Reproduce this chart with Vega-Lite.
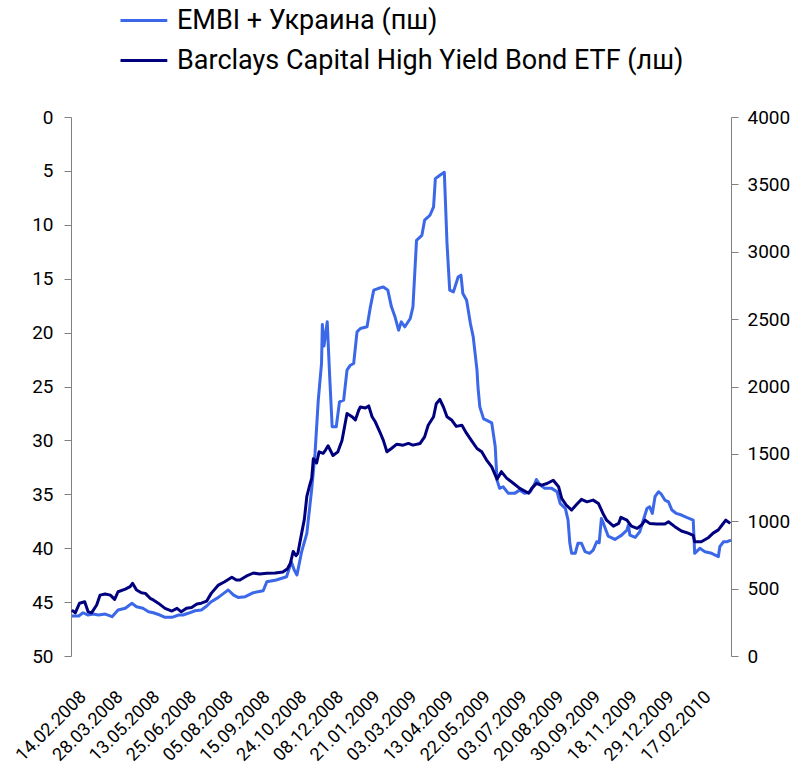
{
  "$schema": "https://vega.github.io/schema/vega-lite/v6.json",
  "width": 660,
  "height": 539,
  "autosize": {"type": "none"},
  "padding": {"left": 71, "top": 117, "right": 63, "bottom": 113},
  "background": "white",
  "config": {
    "view": {"stroke": null},
    "font": "Roboto",
    "axis": {"labelFont": "Roboto", "labelColor": "#000000", "grid": false, "title": null}
  },
  "datasets": {
    "embi": [
      {"date": "2008-02-01", "spread": 297}, {"date": "2008-02-09", "spread": 297}, {"date": "2008-02-14", "spread": 321},
      {"date": "2008-02-20", "spread": 304}, {"date": "2008-02-26", "spread": 311}, {"date": "2008-03-03", "spread": 304},
      {"date": "2008-03-11", "spread": 311}, {"date": "2008-03-19", "spread": 292}, {"date": "2008-03-26", "spread": 341},
      {"date": "2008-04-04", "spread": 354}, {"date": "2008-04-12", "spread": 391}, {"date": "2008-04-18", "spread": 366},
      {"date": "2008-04-26", "spread": 354}, {"date": "2008-05-03", "spread": 329}, {"date": "2008-05-09", "spread": 321},
      {"date": "2008-05-17", "spread": 304}, {"date": "2008-05-23", "spread": 287}, {"date": "2008-05-31", "spread": 287},
      {"date": "2008-06-08", "spread": 304}, {"date": "2008-06-13", "spread": 304}, {"date": "2008-06-19", "spread": 317},
      {"date": "2008-06-27", "spread": 336}, {"date": "2008-07-04", "spread": 341}, {"date": "2008-07-10", "spread": 371},
      {"date": "2008-07-15", "spread": 403}, {"date": "2008-07-23", "spread": 435}, {"date": "2008-07-30", "spread": 470},
      {"date": "2008-08-03", "spread": 490}, {"date": "2008-08-09", "spread": 452}, {"date": "2008-08-14", "spread": 435},
      {"date": "2008-08-22", "spread": 440}, {"date": "2008-08-31", "spread": 470}, {"date": "2008-09-11", "spread": 484},
      {"date": "2008-09-15", "spread": 551}, {"date": "2008-09-25", "spread": 564}, {"date": "2008-10-06", "spread": 588},
      {"date": "2008-10-11", "spread": 699}, {"date": "2008-10-14", "spread": 640}, {"date": "2008-10-17", "spread": 601},
      {"date": "2008-10-22", "spread": 775}, {"date": "2008-10-28", "spread": 910}, {"date": "2008-11-03", "spread": 1240},
      {"date": "2008-11-07", "spread": 1500}, {"date": "2008-11-11", "spread": 1899}, {"date": "2008-11-15", "spread": 2171},
      {"date": "2008-11-16", "spread": 2460}, {"date": "2008-11-18", "spread": 2300}, {"date": "2008-11-22", "spread": 2480},
      {"date": "2008-11-25", "spread": 2072}, {"date": "2008-11-28", "spread": 1701}, {"date": "2008-12-03", "spread": 1701},
      {"date": "2008-12-07", "spread": 1886}, {"date": "2008-12-12", "spread": 1899}, {"date": "2008-12-16", "spread": 2121},
      {"date": "2008-12-20", "spread": 2158}, {"date": "2008-12-24", "spread": 2171}, {"date": "2008-12-28", "spread": 2405},
      {"date": "2009-01-01", "spread": 2430}, {"date": "2009-01-09", "spread": 2443}, {"date": "2009-01-13", "spread": 2591},
      {"date": "2009-01-17", "spread": 2715}, {"date": "2009-01-22", "spread": 2727}, {"date": "2009-01-28", "spread": 2739},
      {"date": "2009-02-02", "spread": 2715}, {"date": "2009-02-06", "spread": 2591}, {"date": "2009-02-10", "spread": 2517},
      {"date": "2009-02-14", "spread": 2418}, {"date": "2009-02-17", "spread": 2480}, {"date": "2009-02-21", "spread": 2443},
      {"date": "2009-02-27", "spread": 2505}, {"date": "2009-03-02", "spread": 2591}, {"date": "2009-03-06", "spread": 3085},
      {"date": "2009-03-12", "spread": 3122}, {"date": "2009-03-15", "spread": 3234}, {"date": "2009-03-21", "spread": 3271},
      {"date": "2009-03-25", "spread": 3333}, {"date": "2009-03-27", "spread": 3543}, {"date": "2009-04-01", "spread": 3568},
      {"date": "2009-04-06", "spread": 3590}, {"date": "2009-04-09", "spread": 3061}, {"date": "2009-04-12", "spread": 2715},
      {"date": "2009-04-16", "spread": 2702}, {"date": "2009-04-21", "spread": 2813}, {"date": "2009-04-24", "spread": 2826},
      {"date": "2009-04-26", "spread": 2690}, {"date": "2009-04-30", "spread": 2640}, {"date": "2009-05-04", "spread": 2468},
      {"date": "2009-05-07", "spread": 2368}, {"date": "2009-05-11", "spread": 2121}, {"date": "2009-05-12", "spread": 2000},
      {"date": "2009-05-14", "spread": 1849}, {"date": "2009-05-18", "spread": 1760}, {"date": "2009-05-21", "spread": 1750},
      {"date": "2009-05-27", "spread": 1730}, {"date": "2009-05-31", "spread": 1553}, {"date": "2009-06-02", "spread": 1305},
      {"date": "2009-06-05", "spread": 1244}, {"date": "2009-06-09", "spread": 1256}, {"date": "2009-06-15", "spread": 1207},
      {"date": "2009-06-22", "spread": 1207}, {"date": "2009-06-28", "spread": 1231}, {"date": "2009-07-04", "spread": 1207},
      {"date": "2009-07-11", "spread": 1219}, {"date": "2009-07-17", "spread": 1281}, {"date": "2009-07-19", "spread": 1310},
      {"date": "2009-07-24", "spread": 1268}, {"date": "2009-07-30", "spread": 1244}, {"date": "2009-08-08", "spread": 1244},
      {"date": "2009-08-15", "spread": 1219}, {"date": "2009-08-19", "spread": 1133}, {"date": "2009-08-25", "spread": 1095},
      {"date": "2009-08-28", "spread": 1009}, {"date": "2009-08-30", "spread": 836}, {"date": "2009-09-01", "spread": 762},
      {"date": "2009-09-05", "spread": 762}, {"date": "2009-09-08", "spread": 836}, {"date": "2009-09-12", "spread": 836},
      {"date": "2009-09-16", "spread": 774}, {"date": "2009-09-21", "spread": 762}, {"date": "2009-09-25", "spread": 786},
      {"date": "2009-09-29", "spread": 848}, {"date": "2009-10-02", "spread": 840}, {"date": "2009-10-05", "spread": 1020},
      {"date": "2009-10-08", "spread": 980}, {"date": "2009-10-14", "spread": 890}, {"date": "2009-10-23", "spread": 865},
      {"date": "2009-11-01", "spread": 897}, {"date": "2009-11-08", "spread": 934}, {"date": "2009-11-10", "spread": 972},
      {"date": "2009-11-12", "spread": 897}, {"date": "2009-11-19", "spread": 880}, {"date": "2009-11-24", "spread": 922},
      {"date": "2009-11-28", "spread": 1009}, {"date": "2009-12-02", "spread": 1095}, {"date": "2009-12-05", "spread": 1107},
      {"date": "2009-12-08", "spread": 1058}, {"date": "2009-12-11", "spread": 1182}, {"date": "2009-12-15", "spread": 1219},
      {"date": "2009-12-18", "spread": 1201}, {"date": "2009-12-22", "spread": 1157}, {"date": "2009-12-26", "spread": 1144},
      {"date": "2009-12-30", "spread": 1083}, {"date": "2010-01-05", "spread": 1058}, {"date": "2010-01-12", "spread": 1046},
      {"date": "2010-01-19", "spread": 1029}, {"date": "2010-01-28", "spread": 1009}, {"date": "2010-01-29", "spread": 885},
      {"date": "2010-01-30", "spread": 762}, {"date": "2010-02-06", "spread": 799}, {"date": "2010-02-13", "spread": 774},
      {"date": "2010-02-22", "spread": 762}, {"date": "2010-03-03", "spread": 737}, {"date": "2010-03-05", "spread": 811},
      {"date": "2010-03-10", "spread": 848}, {"date": "2010-03-15", "spread": 848}, {"date": "2010-03-20", "spread": 860}
    ],
    "hy": [
      {"date": "2008-02-01", "price": 45.74}, {"date": "2008-02-05", "price": 46.0}, {"date": "2008-02-10", "price": 45.1},
      {"date": "2008-02-16", "price": 44.97}, {"date": "2008-02-20", "price": 45.9}, {"date": "2008-02-24", "price": 46.0},
      {"date": "2008-03-01", "price": 45.27}, {"date": "2008-03-05", "price": 44.35}, {"date": "2008-03-11", "price": 44.25},
      {"date": "2008-03-17", "price": 44.35}, {"date": "2008-03-22", "price": 44.75}, {"date": "2008-03-26", "price": 44.04},
      {"date": "2008-04-04", "price": 43.8}, {"date": "2008-04-10", "price": 43.57}, {"date": "2008-04-13", "price": 43.26},
      {"date": "2008-04-18", "price": 43.88}, {"date": "2008-04-24", "price": 44.13}, {"date": "2008-04-29", "price": 44.19},
      {"date": "2008-05-05", "price": 44.65}, {"date": "2008-05-09", "price": 44.8}, {"date": "2008-05-15", "price": 45.1},
      {"date": "2008-05-23", "price": 45.58}, {"date": "2008-05-31", "price": 45.83}, {"date": "2008-06-06", "price": 45.58},
      {"date": "2008-06-11", "price": 45.9}, {"date": "2008-06-17", "price": 45.58}, {"date": "2008-06-23", "price": 45.5},
      {"date": "2008-06-29", "price": 45.18}, {"date": "2008-07-04", "price": 45.1}, {"date": "2008-07-10", "price": 44.9},
      {"date": "2008-07-15", "price": 44.19}, {"date": "2008-07-23", "price": 43.42}, {"date": "2008-07-30", "price": 43.11},
      {"date": "2008-08-07", "price": 42.7}, {"date": "2008-08-12", "price": 42.95}, {"date": "2008-08-16", "price": 42.95},
      {"date": "2008-08-23", "price": 42.6}, {"date": "2008-08-31", "price": 42.3}, {"date": "2008-09-07", "price": 42.4},
      {"date": "2008-09-15", "price": 42.33}, {"date": "2008-09-24", "price": 42.3}, {"date": "2008-10-02", "price": 42.2},
      {"date": "2008-10-07", "price": 41.9}, {"date": "2008-10-10", "price": 41.4}, {"date": "2008-10-13", "price": 40.3},
      {"date": "2008-10-16", "price": 40.7}, {"date": "2008-10-18", "price": 40.45}, {"date": "2008-10-22", "price": 38.6},
      {"date": "2008-10-25", "price": 37.3}, {"date": "2008-10-28", "price": 35.2}, {"date": "2008-10-31", "price": 34.3},
      {"date": "2008-11-03", "price": 33.5}, {"date": "2008-11-05", "price": 31.7}, {"date": "2008-11-09", "price": 32.1},
      {"date": "2008-11-12", "price": 31.06}, {"date": "2008-11-17", "price": 31.2}, {"date": "2008-11-19", "price": 31.0},
      {"date": "2008-11-23", "price": 30.5}, {"date": "2008-11-29", "price": 31.4}, {"date": "2008-12-05", "price": 31.06},
      {"date": "2008-12-10", "price": 30.0}, {"date": "2008-12-16", "price": 27.5}, {"date": "2008-12-22", "price": 27.8},
      {"date": "2008-12-26", "price": 28.1}, {"date": "2008-12-30", "price": 27.2}, {"date": "2009-01-01", "price": 26.9},
      {"date": "2009-01-07", "price": 27.0}, {"date": "2009-01-11", "price": 26.8}, {"date": "2009-01-15", "price": 27.8},
      {"date": "2009-01-19", "price": 28.3}, {"date": "2009-01-24", "price": 29.2}, {"date": "2009-01-28", "price": 30.0},
      {"date": "2009-02-01", "price": 31.06}, {"date": "2009-02-06", "price": 30.75}, {"date": "2009-02-12", "price": 30.35},
      {"date": "2009-02-19", "price": 30.44}, {"date": "2009-02-25", "price": 30.28}, {"date": "2009-03-02", "price": 30.44},
      {"date": "2009-03-10", "price": 30.28}, {"date": "2009-03-15", "price": 29.67}, {"date": "2009-03-19", "price": 28.6},
      {"date": "2009-03-25", "price": 27.8}, {"date": "2009-03-28", "price": 26.6}, {"date": "2009-04-01", "price": 26.2},
      {"date": "2009-04-05", "price": 26.9}, {"date": "2009-04-09", "price": 27.8}, {"date": "2009-04-14", "price": 28.1},
      {"date": "2009-04-19", "price": 28.7}, {"date": "2009-04-25", "price": 28.6}, {"date": "2009-04-30", "price": 29.35},
      {"date": "2009-05-05", "price": 30.0}, {"date": "2009-05-11", "price": 30.75}, {"date": "2009-05-16", "price": 31.06},
      {"date": "2009-05-21", "price": 31.8}, {"date": "2009-05-27", "price": 32.45}, {"date": "2009-06-02", "price": 33.6},
      {"date": "2009-06-07", "price": 32.9}, {"date": "2009-06-13", "price": 33.5}, {"date": "2009-06-21", "price": 34.0},
      {"date": "2009-06-28", "price": 34.45}, {"date": "2009-07-09", "price": 34.9}, {"date": "2009-07-13", "price": 34.45},
      {"date": "2009-07-19", "price": 34.0}, {"date": "2009-07-26", "price": 34.15}, {"date": "2009-08-02", "price": 34.0},
      {"date": "2009-08-10", "price": 33.7}, {"date": "2009-08-17", "price": 34.3}, {"date": "2009-08-21", "price": 35.4},
      {"date": "2009-08-26", "price": 36.0}, {"date": "2009-09-01", "price": 36.46}, {"date": "2009-09-07", "price": 35.9},
      {"date": "2009-09-12", "price": 35.47}, {"date": "2009-09-18", "price": 35.7}, {"date": "2009-09-25", "price": 35.54},
      {"date": "2009-10-01", "price": 35.85}, {"date": "2009-10-08", "price": 36.9}, {"date": "2009-10-12", "price": 37.4},
      {"date": "2009-10-21", "price": 37.95}, {"date": "2009-10-28", "price": 37.7}, {"date": "2009-10-31", "price": 37.14},
      {"date": "2009-11-08", "price": 37.4}, {"date": "2009-11-14", "price": 37.95}, {"date": "2009-11-21", "price": 38.16},
      {"date": "2009-11-26", "price": 37.85}, {"date": "2009-11-30", "price": 37.4}, {"date": "2009-12-05", "price": 37.7},
      {"date": "2009-12-13", "price": 37.76}, {"date": "2009-12-22", "price": 37.76}, {"date": "2009-12-26", "price": 37.55},
      {"date": "2010-01-03", "price": 38.0}, {"date": "2010-01-12", "price": 38.4}, {"date": "2010-01-21", "price": 38.6},
      {"date": "2010-01-28", "price": 38.8}, {"date": "2010-01-30", "price": 39.4}, {"date": "2010-02-08", "price": 39.4},
      {"date": "2010-02-18", "price": 39.0}, {"date": "2010-02-24", "price": 38.6}, {"date": "2010-03-03", "price": 38.3},
      {"date": "2010-03-08", "price": 37.85}, {"date": "2010-03-13", "price": 37.4}, {"date": "2010-03-19", "price": 37.7}
    ]
  },
  "encoding": {
    "x": {
      "field": "date",
      "type": "quantitative",
      "scale": {
        "type": "linear",
        "nice": false,
        "zero": false,
        "domain": [1201737600000, 1202947200000, 1206662400000, 1210636800000, 1214352000000, 1217894400000, 1221436800000, 1224806400000, 1228694400000, 1232496000000, 1236038400000, 1239580800000, 1242950400000, 1246579200000, 1250726400000, 1254268800000, 1258502400000, 1262044800000, 1266364800000, 1269043200000],
        "range": [0, 12, 48.76, 85.52, 122.28, 159.04, 195.8, 232.56, 269.32, 306.08, 342.84, 379.6, 416.36, 453.12, 489.88, 526.64, 563.4, 600.16, 636.92, 660]
      },
      "axis": {
        "values": [1202947200000, 1206662400000, 1210636800000, 1214352000000, 1217894400000, 1221436800000, 1224806400000, 1228694400000, 1232496000000, 1236038400000, 1239580800000, 1242950400000, 1246579200000, 1250726400000, 1254268800000, 1258502400000, 1262044800000, 1266364800000],
        "labelExpr": "utcFormat(datum.value, '%d.%m.%Y')",
        "labelAngle": -45,
        "labelAlign": "right",
        "labelBaseline": "middle",
        "labelPadding": 38,
        "labelFontSize": 18,
        "labelOverlap": false,
        "labelFlush": false,
        "labelBound": false,
        "ticks": false,
        "domain": false,
        "grid": false,
        "title": null
      }
    }
  },
  "layer": [
    {
      "data": {"name": "embi", "format": {"parse": {"date": "date"}}},
      "mark": {"type": "line", "strokeWidth": 3, "strokeJoin": "round"},
      "encoding": {
        "y": {
          "field": "spread",
          "type": "quantitative",
          "scale": {"domain": [0, 4000], "nice": false, "zero": false},
          "axis": {
            "orient": "right",
            "values": [0, 500, 1000, 1500, 2000, 2500, 3000, 3500, 4000],
            "format": "d",
            "domainColor": "#808080",
            "tickColor": "#808080",
            "tickSize": 7,
            "labelPadding": 9,
            "labelFontSize": 19,
            "grid": false,
            "title": null
          }
        },
        "color": {
          "datum": "EMBI + Украина (пш)",
          "type": "nominal",
          "scale": {
            "domain": ["EMBI + Украина (пш)", "Barclays Capital High Yield Bond ETF (лш)"],
            "range": ["#3b68e8", "#00007f"]
          },
          "legend": {
            "title": null,
            "orient": "none",
            "legendX": 78,
            "legendY": -110,
            "direction": "vertical",
            "padding": 0,
            "symbolType": "M-7,0H0.8",
            "symbolSize": 144,
            "symbolStrokeWidth": 3,
            "labelFont": "Roboto",
            "labelFontSize": 27,
            "labelColor": "#000000",
            "labelOffset": 1,
            "labelLimit": 0,
            "rowPadding": 12
          }
        }
      }
    },
    {
      "data": {"name": "hy", "format": {"parse": {"date": "date"}}},
      "mark": {"type": "line", "strokeWidth": 3, "strokeJoin": "round"},
      "encoding": {
        "y": {
          "field": "price",
          "type": "quantitative",
          "scale": {"domain": [0, 50], "reverse": true, "nice": false, "zero": false},
          "axis": {
            "orient": "left",
            "values": [0, 5, 10, 15, 20, 25, 30, 35, 40, 45, 50],
            "domainColor": "#808080",
            "tickColor": "#808080",
            "tickSize": 7,
            "labelPadding": 11,
            "labelFontSize": 19,
            "grid": false,
            "title": null
          }
        },
        "color": {"datum": "Barclays Capital High Yield Bond ETF (лш)", "type": "nominal"}
      }
    }
  ],
  "resolve": {"scale": {"y": "independent"}}
}
